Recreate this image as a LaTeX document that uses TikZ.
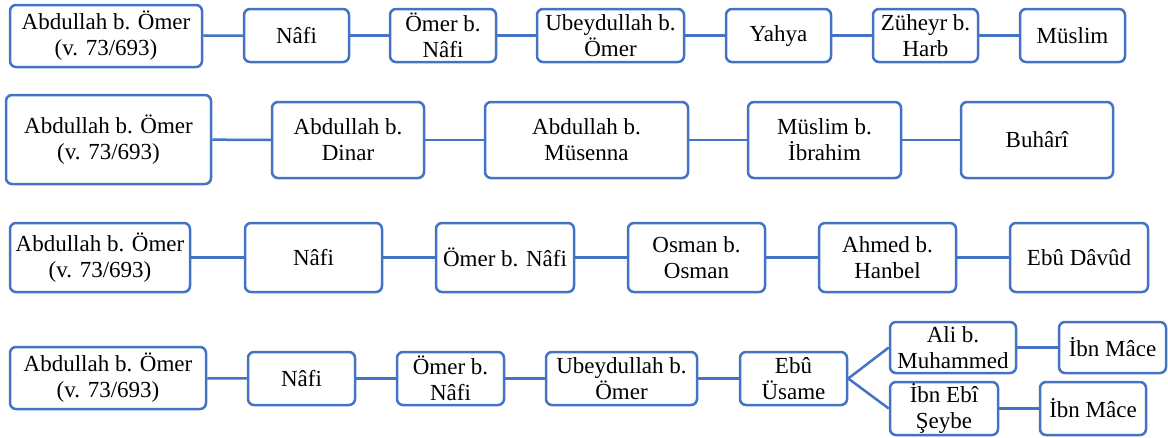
\documentclass[tikz,border=0pt]{standalone}
\usepackage{fontspec}
\setmainfont{Liberation Serif}
\definecolor{boxblue}{RGB}{68,114,196}
\begin{document}
\begin{tikzpicture}[x=1pt,y=-1pt,
  bx/.style={draw=boxblue, line width=2.5pt, rounded corners=6pt, fill=white,
    inner sep=0pt, align=center, font=\fontsize{23}{26}\selectfont, text=black},
  ln/.style={draw=boxblue, line width=2.5pt}]
\useasboundingbox (0,0) rectangle (1168,437);
% Row 1
\node[bx, minimum width=192, minimum height=62] (r1a) at (106,36) {Abdullah b. Ömer\\(v. 73/693)};
\node[bx, minimum width=105, minimum height=53] (r1b) at (296.5,35.5) {Nâfi};
\node[bx, minimum width=106, minimum height=53] (r1c) at (443,35.5) {Ömer b.\\Nâfi};
\node[bx, minimum width=147, minimum height=53] (r1d) at (610.5,35.5) {Ubeydullah b.\\Ömer};
\node[bx, minimum width=105, minimum height=53] (r1e) at (778.5,35.5) {Yahya};
\node[bx, minimum width=105, minimum height=53] (r1f) at (925.5,35.5) {Züheyr b.\\Harb};
\node[bx, minimum width=105, minimum height=53] (r1g) at (1072.5,35.5) {Müslim};
\draw[ln] (r1a) -- (r1b);
\draw[ln] (r1b) -- (r1c);
\draw[ln] (r1c) -- (r1d);
\draw[ln] (r1d) -- (r1e);
\draw[ln] (r1e) -- (r1f);
\draw[ln] (r1f) -- (r1g);
% Row 2
\node[bx, minimum width=205, minimum height=89] (r2a) at (108.5,139.5) {Abdullah b. Ömer\\(v. 73/693)};
\node[bx, minimum width=152, minimum height=76] (r2b) at (348,140) {Abdullah b.\\Dinar};
\node[bx, minimum width=203, minimum height=76] (r2c) at (586.5,140) {Abdullah b.\\Müsenna};
\node[bx, minimum width=153, minimum height=76] (r2d) at (824.5,140) {Müslim b.\\İbrahim};
\node[bx, minimum width=152, minimum height=76] (r2e) at (1037,140) {Buhârî};
\draw[ln] (r2a) -- (r2b);
\draw[ln] (r2b) -- (r2c);
\draw[ln] (r2c) -- (r2d);
\draw[ln] (r2d) -- (r2e);
% Row 3
\node[bx, minimum width=180, minimum height=69] (r3a) at (100,257.5) {Abdullah b. Ömer\\(v. 73/693)};
\node[bx, minimum width=137, minimum height=69] (r3b) at (313.5,257.5) {Nâfi};
\node[bx, minimum width=138, minimum height=69] (r3c) at (505,257.5) {Ömer b. Nâfi};
\node[bx, minimum width=137, minimum height=69] (r3d) at (696.5,257.5) {Osman b.\\Osman};
\node[bx, minimum width=137, minimum height=69] (r3e) at (887.5,257.5) {Ahmed b.\\Hanbel};
\node[bx, minimum width=138, minimum height=69] (r3f) at (1079,257.5) {Ebû Dâvûd};
\draw[ln] (r3a) -- (r3b);
\draw[ln] (r3b) -- (r3c);
\draw[ln] (r3c) -- (r3d);
\draw[ln] (r3d) -- (r3e);
\draw[ln] (r3e) -- (r3f);
% Row 4
\node[bx, minimum width=196, minimum height=62] (r4a) at (108,378) {Abdullah b. Ömer\\(v. 73/693)};
\node[bx, minimum width=107, minimum height=53] (r4b) at (301.5,378.5) {Nâfi};
\node[bx, minimum width=107, minimum height=53] (r4c) at (450.5,378.5) {Ömer b.\\Nâfi};
\node[bx, minimum width=151, minimum height=53] (r4d) at (621.5,378.5) {Ubeydullah b.\\Ömer};
\node[bx, minimum width=107, minimum height=53] (r4e) at (793.5,378.5) {Ebû\\Üsame};
\node[bx, minimum width=126, minimum height=51] (r4f) at (953,347.5) {Ali b.\\Muhammed};
\node[bx, minimum width=107, minimum height=51] (r4g) at (1112.5,347.5) {İbn Mâce};
\node[bx, minimum width=108, minimum height=53] (r4h) at (944,408.5) {İbn Ebî\\Şeybe};
\node[bx, minimum width=106, minimum height=53] (r4i) at (1093,408.5) {İbn Mâce};
\draw[ln] (r4a) -- (r4b);
\draw[ln] (r4b) -- (r4c);
\draw[ln] (r4c) -- (r4d);
\draw[ln] (r4d) -- (r4e);
\draw[ln] (r4e.east) -- (r4f.west);
\draw[ln] (r4e.east) -- (r4h.west);
\draw[ln] (r4f) -- (r4g);
\draw[ln] (r4h) -- (r4i);
\end{tikzpicture}
\end{document}
